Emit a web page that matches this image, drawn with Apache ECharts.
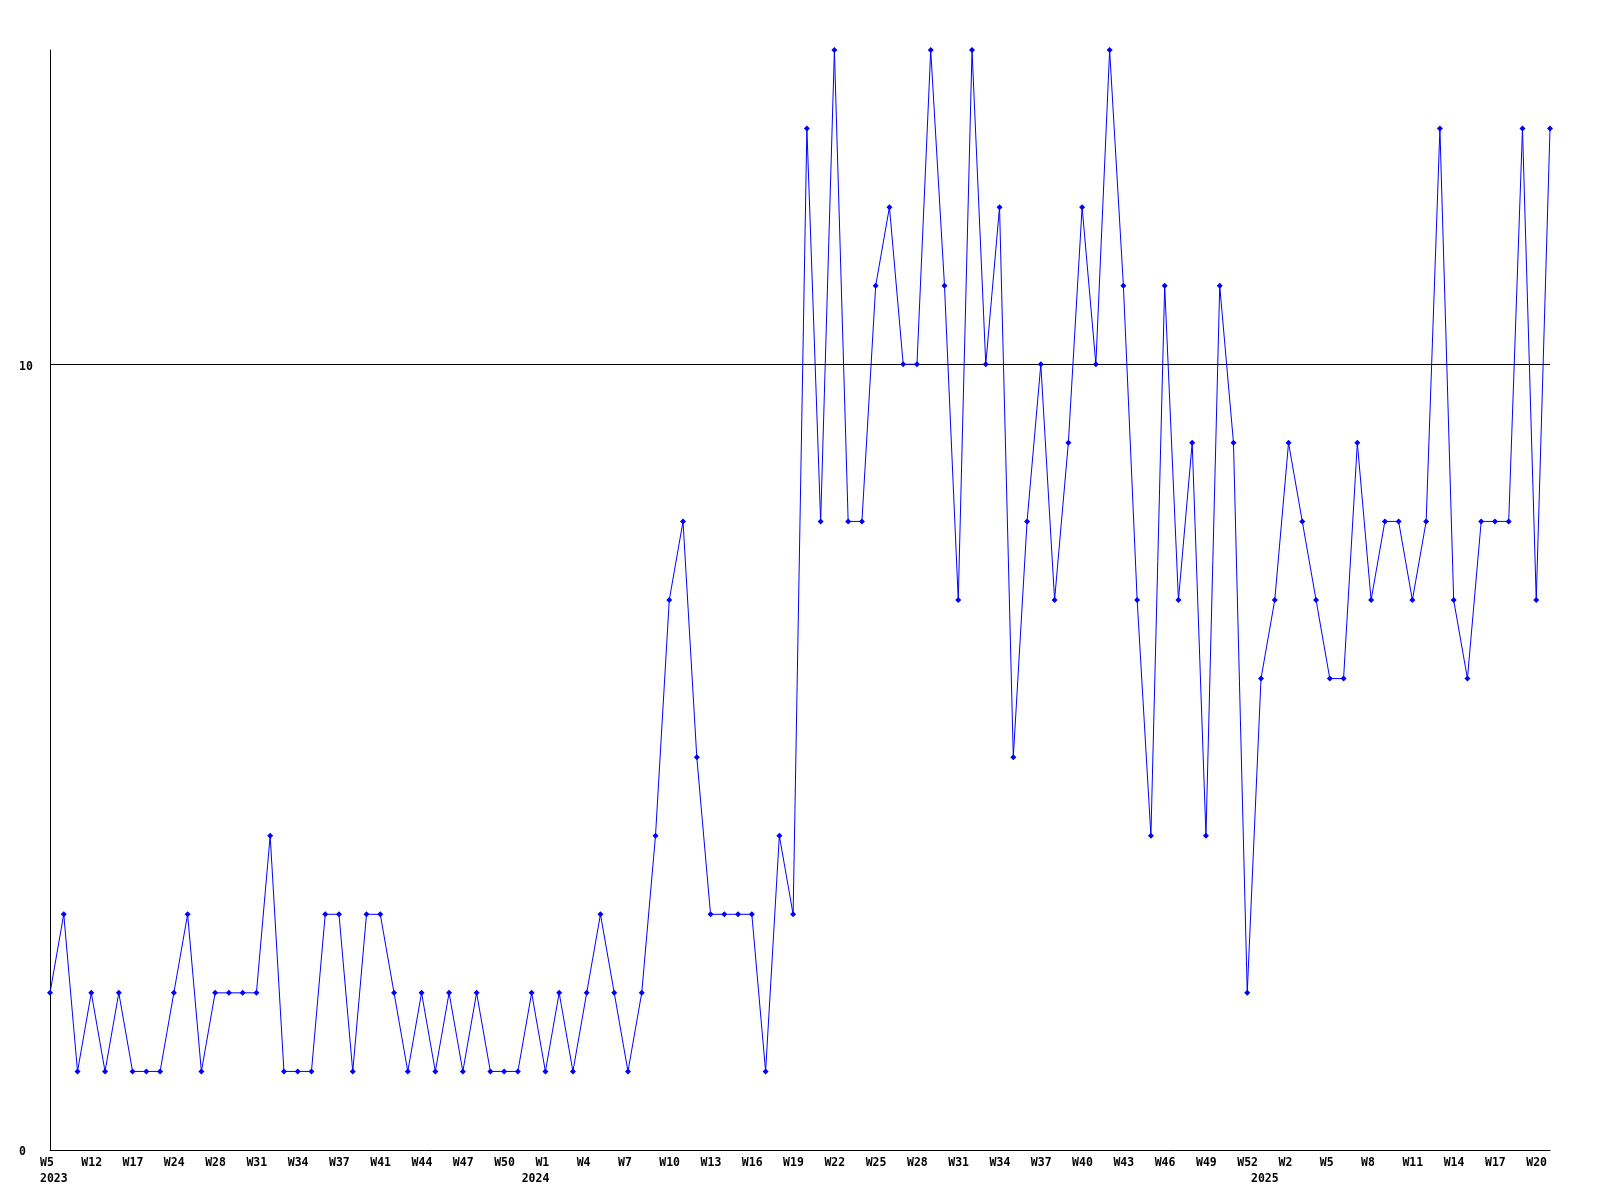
<!DOCTYPE html>
<html>
<head>
<meta charset="utf-8">
<script src="https://cdn.jsdelivr.net/npm/echarts@6/dist/echarts.min.js"></script>
<style>
html,body{margin:0;padding:0;background:#fff;}
#chart{width:1600px;height:1200px;}
</style>
</head>
<body>
<div id="chart"></div>
<script>
// Week labels per point (only every 3rd is displayed, like the reference)
const weeks = [
  'W5','W7','W9','W12','W14','W15','W17','W20','W22','W24','W25','W26',
  'W28','W29','W30','W31','W32','W33','W34','W35','W36','W37','W38','W40',
  'W41','W42','W43','W44','W45','W46','W47','W48','W49','W50','W51','W52',
  'W1','W2','W3','W4','W5','W6','W7','W8','W9','W10','W11','W12',
  'W13','W14','W15','W16','W17','W18','W19','W20','W21','W22','W23','W24',
  'W25','W26','W27','W28','W29','W30','W31','W32','W33','W34','W35','W36',
  'W37','W38','W39','W40','W41','W42','W43','W44','W45','W46','W47','W48',
  'W49','W50','W51','W52','W53','W1','W2','W3','W4','W5','W6','W7',
  'W8','W9','W10','W11','W12','W13','W14','W15','W16','W17','W18','W19',
  'W20','W21'
];
// Year labels: point index -> year text
const yearLabels = {0: '2023', 35: '2024', 88: '2025'};

const values = [
  2,3,1,2,1,2,1,1,1,2,3,1,
  2,2,2,2,4,1,1,1,3,3,1,3,
  3,2,1,2,1,2,1,2,1,1,1,2,
  1,2,1,2,3,2,1,2,4,7,8,5,
  3,3,3,3,1,4,3,13,8,14,8,8,
  11,12,10,10,14,11,7,14,10,12,5,8,
  10,7,9,12,10,14,11,7,4,11,7,9,
  4,11,9,2,6,7,9,8,7,6,6,9,
  7,8,8,7,8,13,7,6,8,8,8,13,
  7,13
];

const yTickLabels = [0, 10];
const referenceLevel = 10;

const categories = weeks.map((w, i) => i + ':' + w);

const FONT = 'DejaVu Sans Mono';
const chart = echarts.init(document.getElementById('chart'), null, {renderer: 'canvas'});

chart.setOption({
  animation: false,
  backgroundColor: '#ffffff',
  grid: [
    {left: 50, top: 50, width: 1500, height: 1100, containLabel: false},
    {left: 40, top: 50, width: 1500, height: 1100, containLabel: false}
  ],
  xAxis: [
    {
      type: 'category', gridIndex: 0, data: categories, boundaryGap: false,
      axisLine: {show: true, lineStyle: {color: '#000', width: 1}},
      axisTick: {show: false},
      axisLabel: {show: false},
      splitLine: {show: false}
    },
    {
      type: 'category', gridIndex: 1, data: categories, boundaryGap: false,
      axisLine: {show: false},
      axisTick: {show: false},
      splitLine: {show: false},
      axisLabel: {
        show: true, interval: 0, align: 'left', verticalAlign: 'top', margin: 5,
        fontFamily: FONT, fontWeight: 'bold', fontSize: 11.5, lineHeight: 16, color: '#000',
        formatter: function (val, idx) {
          let s = (idx % 3 === 0) ? weeks[idx] : '';
          if (yearLabels[idx] !== undefined) s += '\n' + yearLabels[idx];
          return s;
        }
      }
    }
  ],
  yAxis: [
    {
      type: 'value', gridIndex: 0, min: 0, max: 14, interval: 10,
      axisLine: {show: true, lineStyle: {color: '#000', width: 1}},
      axisTick: {show: false},
      splitLine: {show: false},
      axisLabel: {
        show: true, align: 'left', margin: 31,
        fontFamily: FONT, fontWeight: 'bold', fontSize: 11.5, color: '#000',
        rich: {
          t: {fontFamily: FONT, fontWeight: 'bold', fontSize: 11.5, color: '#000', padding: [5, 0, 0, 0]}
        },
        formatter: function (v) { return yTickLabels.indexOf(v) >= 0 ? '{t|' + v + '}' : ''; }
      }
    },
    {
      type: 'value', gridIndex: 1, min: 0, max: 14, show: false
    }
  ],
  series: [{
    type: 'line',
    xAxisIndex: 0, yAxisIndex: 0,
    data: values,
    symbol: 'diamond', symbolSize: 6, showSymbol: true,
    lineStyle: {color: '#0000ff', width: 1},
    itemStyle: {color: '#0000ff'},
    z: 3,
    markLine: {
      silent: true, symbol: 'none', animation: false,
      label: {show: false},
      lineStyle: {color: '#000', width: 1, type: 'solid'},
      data: [{yAxis: referenceLevel}],
      z: 2
    }
  }]
});
</script>
</body>
</html>
